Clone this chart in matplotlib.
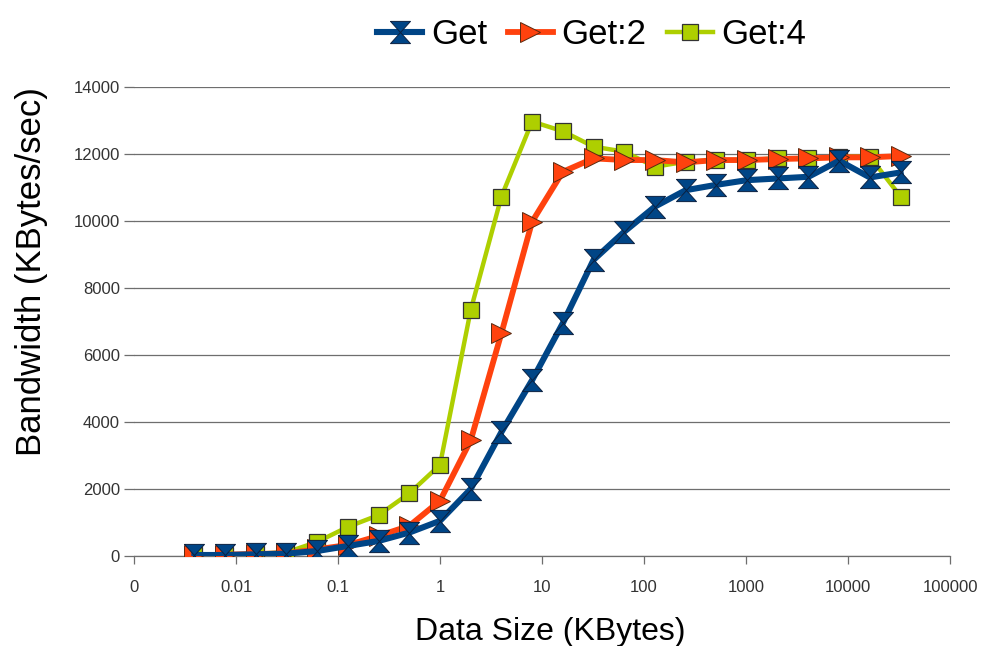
import matplotlib
matplotlib.use("Agg")
import matplotlib.pyplot as plt
from matplotlib.ticker import FixedLocator, FixedFormatter, NullLocator

plt.rcParams['font.family'] = ['Liberation Sans', 'DejaVu Sans']

# Data size in KBytes (powers of two from 4 bytes to 32 MB)
sizes = [2.0 ** e for e in range(-8, 16)]

get1 = [30, 30, 50, 70, 150, 300, 450, 700, 1050, 2000, 3700, 5250,
        6950, 8840, 9680, 10430, 10920, 11080, 11220, 11270, 11320, 11800,
        11300, 11450]
get2 = [20, 40, 60, 80, 200, 330, 600, 900, 1650, 3450, 6650, 9980,
        11470, 11870, 11820, 11820, 11750, 11820, 11820, 11850, 11870, 11900,
        11900, 11940]
get4 = [20, 40, 70, 110, 420, 870, 1220, 1870, 2720, 7340, 10730, 12970,
        12680, 12220, 12070, 11620, 11770, 11820, 11820, 11870, 11870, 11920,
        11920, 10730]

xticks = [0.001, 0.01, 0.1, 1, 10, 100, 1000, 10000, 100000]
xticklabels = ["0", "0.01", "0.1", "1", "10", "100", "1000", "10000", "100000"]
yticks = [0, 2000, 4000, 6000, 8000, 10000, 12000, 14000]

c_blue = "#004586"
c_orange = "#ff420e"
c_green = "#aecf00"

hourglass = [(-0.9, 1), (0.9, 1), (0, 0), (0.9, -1), (-0.9, -1), (0, 0), (-0.9, 1)]

fig = plt.figure(figsize=(9.81, 6.46), dpi=100)
ax = fig.add_axes([0.1366, 0.1393, 0.8318, 0.726])

lg4, = ax.plot(sizes, get4, color=c_green, lw=3.2, marker='s', ms=11.5,
               mfc=c_green, mec='#333333', mew=0.9, zorder=3, label="Get:4")
lg2, = ax.plot(sizes, get2, color=c_orange, lw=4.2, marker='>', ms=14,
               mfc=c_orange, mec='#5a2a10', mew=0.7, zorder=4, label="Get:2")
lg1, = ax.plot(sizes, get1, color=c_blue, lw=4.4, marker=hourglass, ms=16,
               mfc=c_blue, mec='#0a2040', mew=0.7, zorder=5, label="Get")

ax.set_xscale('log')
ax.set_xlim(0.001, 100000)
ax.set_ylim(0, 14000)
ax.xaxis.set_major_locator(FixedLocator(xticks))
ax.xaxis.set_major_formatter(FixedFormatter(xticklabels))
ax.xaxis.set_minor_locator(NullLocator())
ax.set_yticks(yticks)
ax.set_yticklabels([str(v) for v in yticks])

ax.grid(axis='y', color='#6e6e6e', lw=0.9, zorder=1)
ax.set_axisbelow(True)
for s in ['top', 'right', 'left']:
    ax.spines[s].set_visible(False)
ax.spines['bottom'].set_color('#6e6e6e')
ax.spines['bottom'].set_linewidth(0.9)

ax.tick_params(axis='x', direction='out', length=6, width=0.9, color='#6e6e6e',
               labelsize=12, labelcolor='#333333', pad=11)
ax.tick_params(axis='y', direction='out', length=7, width=0.9, color='#6e6e6e',
               labelsize=12, labelcolor='#333333', pad=3)

ax.set_xlabel("Data Size (KBytes)", fontsize=23)
ax.set_ylabel("Bandwidth (KBytes/sec)", fontsize=25)
ax.xaxis.set_label_coords(0.51, -0.13)
ax.yaxis.set_label_coords(-0.106, 0.606)

fig.legend(handles=[lg1, lg2, lg4], loc='center', bbox_to_anchor=(0.603, 0.946),
           ncol=3, frameon=False, fontsize=25, handlelength=1.3,
           handletextpad=0.25, columnspacing=0.6, markerscale=1.0)

fig.savefig("out.png", dpi=100)
